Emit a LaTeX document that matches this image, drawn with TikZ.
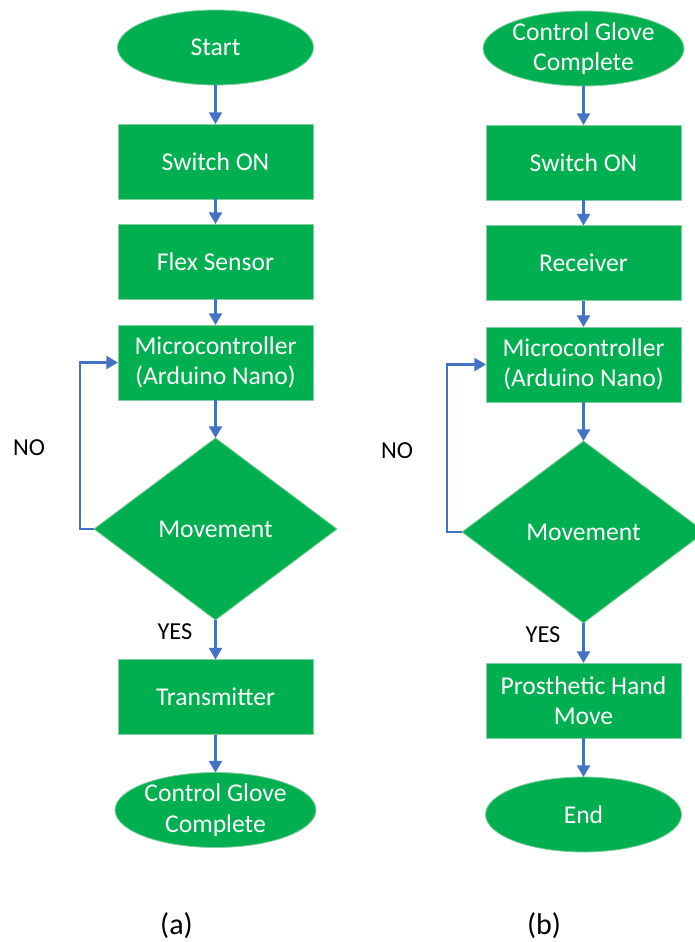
\documentclass[tikz,border=0pt]{standalone}
\usepackage{fontspec}
\setmainfont{Carlito}
\usetikzlibrary{shapes.geometric,arrows.meta}
\definecolor{fillgreen}{RGB}{0,176,80}
\definecolor{edgegreen}{RGB}{130,205,160}
\definecolor{arrowblue}{RGB}{68,114,196}
\tikzset{
  base/.style={fill=fillgreen, draw=edgegreen, line width=0.4pt, text=white, align=center, inner sep=0pt, outer sep=0pt, font=\fontsize{12.8}{15.2}\selectfont},
  procbox/.style={base, rectangle, minimum width=97.5pt, minimum height=37.5pt},
  term/.style={base, ellipse, minimum width=98pt, minimum height=37.5pt},
  decide/.style={base, diamond, minimum width=121.5pt, minimum height=91pt},
  flow/.style={draw=arrowblue, line width=1.05pt, -{Triangle[width=6.5pt,length=5.8pt]}},
  lbl/.style={text=black, inner sep=0pt, font=\fontsize{12.2}{14}\selectfont},
  captxt/.style={text=black, inner sep=0pt, font=\fontsize{15}{18}\selectfont}
}
\begin{document}
\begin{tikzpicture}[x=0.5pt,y=-0.5pt]
\clip (0,0) rectangle (695,942);
\fill[white] (0,0) rectangle (695,942);
% (a)
\node[term]    (startA) at (215.5,47.5) {Start};
\node[procbox] (swA)    at (215.5,161.5) {Switch ON};
\node[procbox] (flex)   at (215.5,261.5) {Flex Sensor};
\node[procbox] (mcA)    at (215.5,362.5) {Microcontroller\\(Arduino Nano)};
\node[decide]  (movA)   at (215.5,529) {Movement};
\node[procbox] (tx)     at (215.5,697) {Transmitter};
\node[term]    (cgcA)   at (215.5,810) {Control Glove\\Complete};
\node[lbl] (noA)  at (29,448) {NO};
\node[lbl] (yesA) at (175,632) {YES};
\node[captxt] (capA) at (176.5,926) {(a)};
\coordinate (lA1) at (80,529);
\coordinate (lA2) at (80,362.5);
\draw[flow] (startA) -- (swA);
\draw[flow] (swA) -- (flex);
\draw[flow] (flex) -- (mcA);
\draw[flow] (mcA) -- (movA);
\draw[flow] (movA) -- (tx);
\draw[flow] (tx) -- (cgcA);
\draw[flow] (movA.west) -- (lA1) -- (lA2) -- (mcA.west);
% (b)
\node[term]    (cgcB) at (583.5,48.5) {Control Glove\\Complete};
\node[procbox] (swB)  at (583.5,162.5) {Switch ON};
\node[procbox] (rx)   at (583.5,263) {Receiver};
\node[procbox] (mcB)  at (583.5,364.5) {Microcontroller\\(Arduino Nano)};
\node[decide]  (movB) at (583.5,532) {Movement};
\node[procbox] (phm)  at (583.5,700.5) {Prosthetic Hand\\Move};
\node[term]    (endB) at (583.5,814.5) {End};
\node[lbl] (noB)  at (397,451) {NO};
\node[lbl] (yesB) at (543,635) {YES};
\node[captxt] (capB) at (544,926) {(b)};
\coordinate (lB1) at (447,532);
\coordinate (lB2) at (447,364.5);
\draw[flow] (cgcB) -- (swB);
\draw[flow] (swB) -- (rx);
\draw[flow] (rx) -- (mcB);
\draw[flow] (mcB) -- (movB);
\draw[flow] (movB) -- (phm);
\draw[flow] (phm) -- (endB);
\draw[flow] (movB.west) -- (lB1) -- (lB2) -- (mcB.west);
\end{tikzpicture}
\end{document}
